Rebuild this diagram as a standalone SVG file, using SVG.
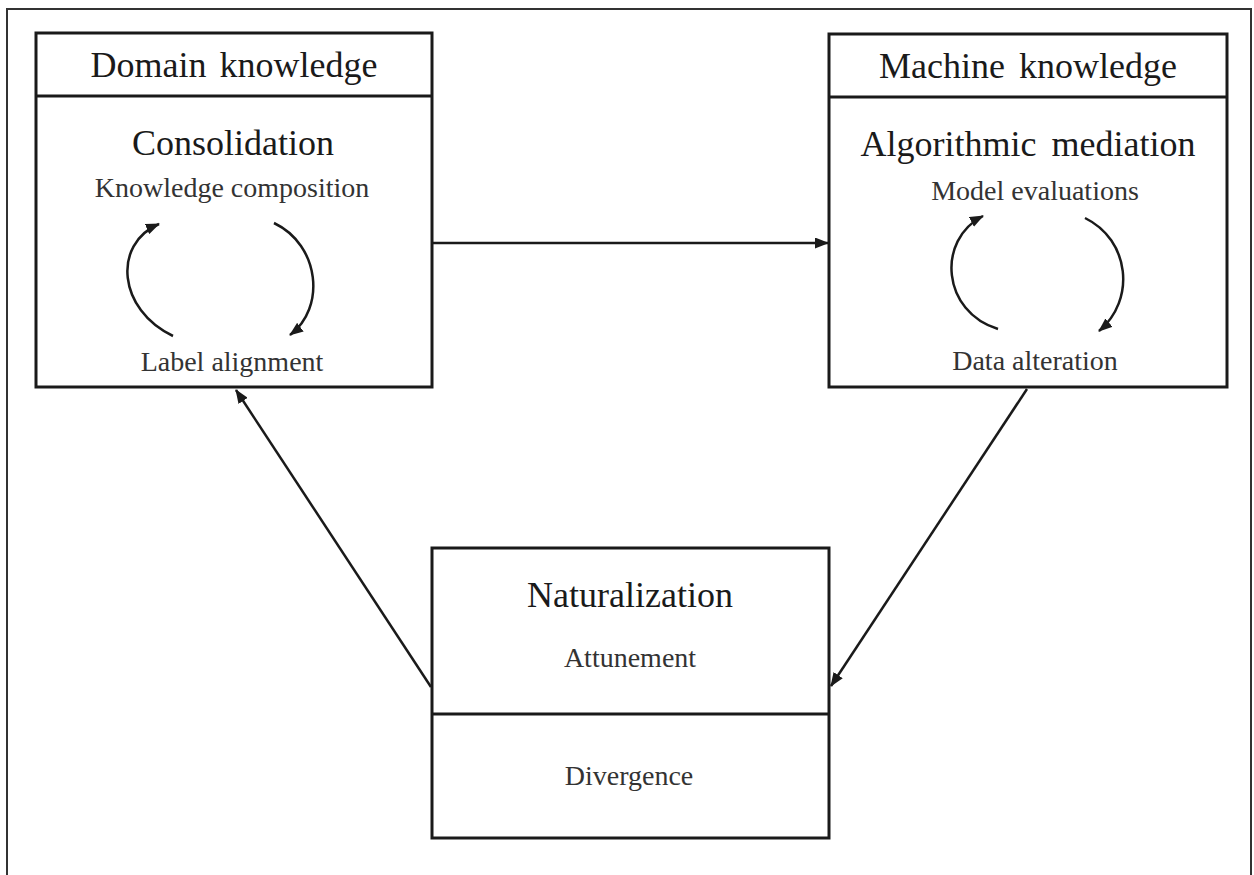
<svg xmlns="http://www.w3.org/2000/svg" width="1254" height="875" viewBox="0 0 1254 875">
  <style>
    .box { fill: #ffffff; stroke: #1a1a1a; stroke-width: 3; }
    .div { stroke: #1a1a1a; stroke-width: 3; }
    .frame { fill: none; stroke: #333333; stroke-width: 2; }
    .head { font-family: "Liberation Serif", "Times New Roman", serif; font-size: 36px; fill: #1a1a1a; text-anchor: middle; }
    .sub { font-family: "Liberation Serif", "Times New Roman", serif; font-size: 28px; fill: #333333; text-anchor: middle; }
    .conn { fill: none; stroke: #1a1a1a; stroke-width: 2.5; marker-end: url(#arrow); }
    .cycle { fill: none; stroke: #1a1a1a; stroke-width: 2.5; marker-end: url(#arrow); }
  </style>
  <defs>
    <marker id="arrow" viewBox="0 0 14 11" refX="13" refY="5.5" markerWidth="14" markerHeight="11" markerUnits="userSpaceOnUse" orient="auto">
      <path d="M0,0 L14,5.5 L0,11 Z" fill="#1a1a1a"/>
    </marker>
  </defs>

  <rect width="1254" height="875" fill="#ffffff"/>
  <!-- outer frame, open at the bottom -->
  <path class="frame" d="M7,880 L7,9 L1251,9 L1251,880"/>

  <!-- connectors between the three stages -->
  <g id="connectors">
    <line class="conn" x1="433" y1="243" x2="828" y2="243"/>
    <line class="conn" x1="1027" y1="389" x2="831" y2="686"/>
    <line class="conn" x1="431" y1="687" x2="236" y2="390"/>
  </g>

  <!-- Domain knowledge / Consolidation -->
  <g id="domain">
    <rect class="box" x="36" y="33" width="396" height="354"/>
    <line class="div" x1="36" y1="96" x2="432" y2="96"/>
    <text class="head" x="234" y="77" word-spacing="4">Domain knowledge</text>
    <text class="head" x="233" y="155">Consolidation</text>
    <text class="sub" x="232" y="197">Knowledge composition</text>
    <text class="sub" x="232" y="371">Label alignment</text>
    <path class="cycle" d="M173,336 C118,310 112,244 159,224"/>
    <path class="cycle" d="M274,223 C320,245 326,308 290,335"/>
  </g>

  <!-- Machine knowledge / Algorithmic mediation -->
  <g id="machine">
    <rect class="box" x="829" y="34" width="398" height="353"/>
    <line class="div" x1="829" y1="97" x2="1227" y2="97"/>
    <text class="head" x="1028" y="78" word-spacing="5">Machine knowledge</text>
    <text class="head" x="1028" y="156" word-spacing="6">Algorithmic mediation</text>
    <text class="sub" x="1035" y="200">Model evaluations</text>
    <text class="sub" x="1035" y="370">Data alteration</text>
    <path class="cycle" d="M998,329 C942,312 936,240 983,216"/>
    <path class="cycle" d="M1085,218 C1130,240 1136,300 1099,331"/>
  </g>

  <!-- Naturalization -->
  <g id="naturalization">
    <rect class="box" x="432" y="548" width="397" height="290"/>
    <line class="div" x1="432" y1="714" x2="829" y2="714"/>
    <text class="head" x="630" y="607">Naturalization</text>
    <text class="sub" x="630" y="667">Attunement</text>
    <text class="sub" x="629" y="785">Divergence</text>
  </g>
</svg>
